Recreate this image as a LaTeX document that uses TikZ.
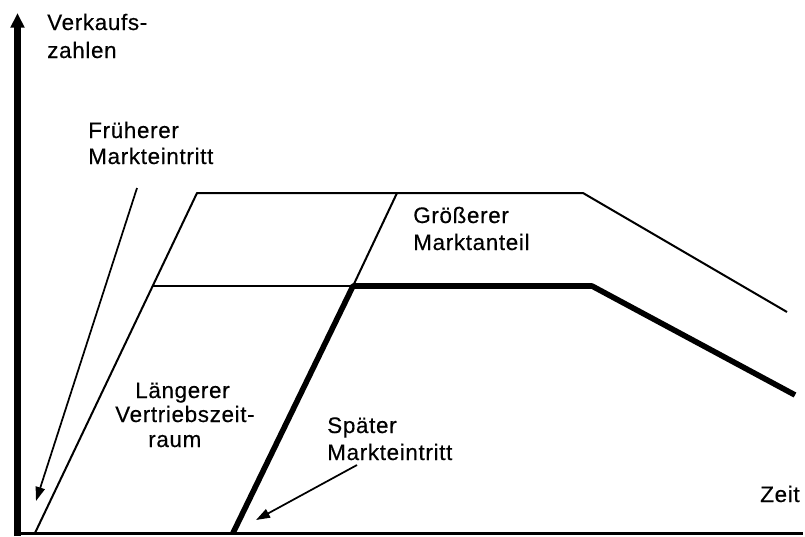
\documentclass[tikz,border=0pt]{standalone}
\usepackage{fontspec}
\setmainfont{Liberation Sans}[LetterSpace=3,FakeBold=0.4]
\usetikzlibrary{arrows.meta}
\begin{document}
\begin{tikzpicture}[x=0.75pt,y=-0.75pt,
    lbl/.style={anchor=base west,inner sep=0pt,font=\fontsize{16.8}{20}\selectfont},
    axis/.style={line width=4.8pt},
    thinline/.style={line width=1.5pt,line join=round},
    thickline/.style={line width=4.2pt,line join=round},
    pointer/.style={line width=1.3pt,-{Triangle[length=10.5pt,width=7pt]}}]
  \useasboundingbox (0,0) rectangle (805,536);

  % axes
  \coordinate (origin) at (17.5,533.5);
  \coordinate (ytop) at (17.5,13);
  \coordinate (xend) at (803,533.5);
  \draw[axis,-{Triangle[length=11pt,width=10pt]}] (17.5,536) -- (ytop);
  \draw[line width=2.8pt] (15,533.5) -- (xend);

  % curve points
  \coordinate (A) at (35,533);
  \coordinate (B) at (197,193);
  \coordinate (C) at (583,193);
  \coordinate (D) at (787,312);
  \coordinate (E) at (152,286);
  \coordinate (F) at (353,286);
  \coordinate (G) at (397,193);
  \coordinate (H) at (592,286);
  \coordinate (I) at (795,395);
  \coordinate (J) at (233,533);

  % early entry curve and market share levels
  \draw[thinline] (A) -- (B) -- (C) -- (D);
  \draw[thinline] (E) -- (H);
  \draw[thinline] (F) -- (G);
  % late entry curve
  \draw[thickline] (J) -- (F) -- (H) -- (I);

  % labels
  \node[lbl] (v1) at (47,30) {Verkaufs-};
  \node[lbl] (v2) at (47,58) {zahlen};
  \node[lbl] (f1) at (88,138) {Früherer};
  \node[lbl] (f2) at (88,164) {Markteintritt};
  \node[lbl] (g1) at (413,223) {Größerer};
  \node[lbl] (g2) at (413,250) {Marktanteil};
  \node[lbl] (l1) at (135,398) {Längerer};
  \node[lbl] (l2) at (115,422) {Vertriebszeit-};
  \node[lbl] (l3) at (148,447) {raum};
  \node[lbl] (s1) at (327,433) {Später};
  \node[lbl] (s2) at (327,460) {Markteintritt};
  \node[lbl] (z) at (760,502) {Zeit};

  % pointers
  \coordinate (fstart) at (137,188);
  \coordinate (fend) at (36,501);
  \coordinate (sstart) at (357,465);
  \coordinate (send) at (256,520);
  \draw[pointer] (fstart) -- (fend);
  \draw[pointer] (sstart) -- (send);
\end{tikzpicture}
\end{document}
